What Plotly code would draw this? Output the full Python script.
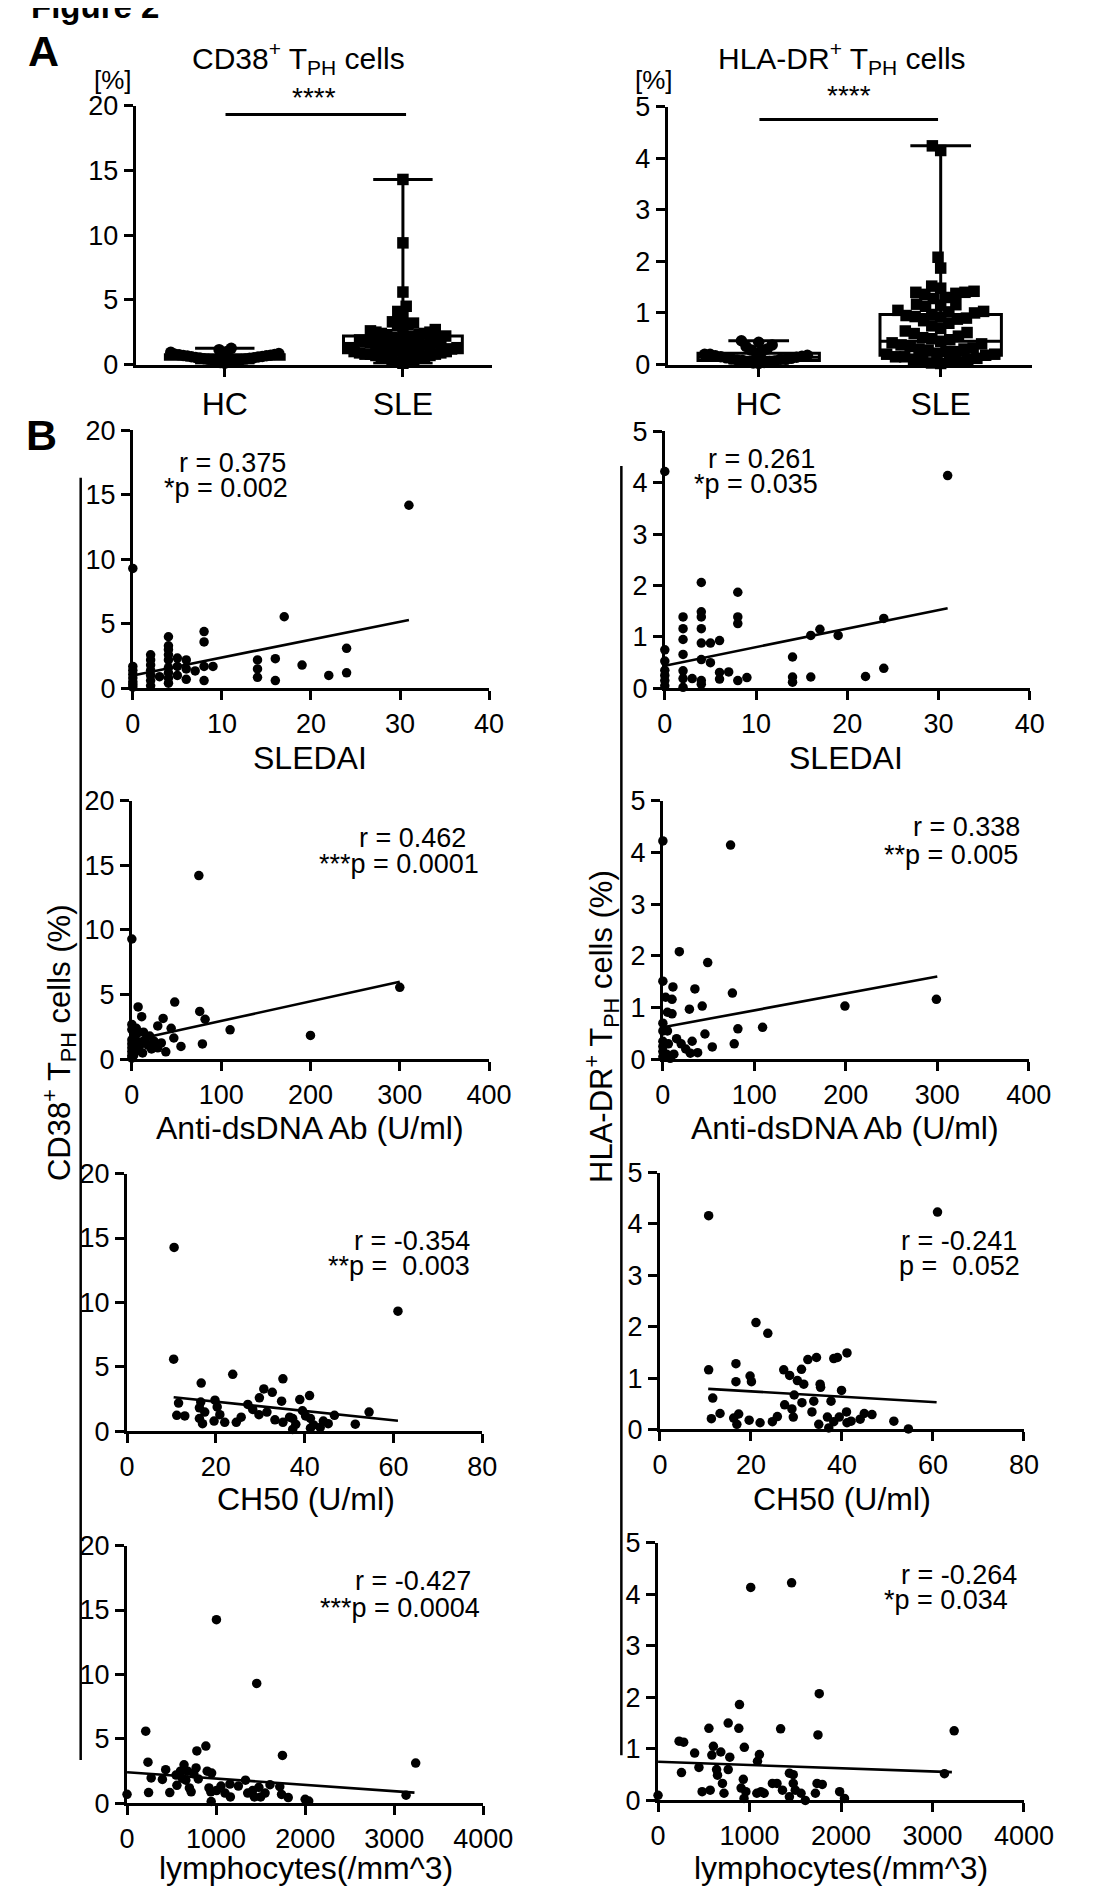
import math
import numpy as np
import plotly.graph_objects as go

W, H = 1101, 1899
FONT = "Liberation Sans, Arial, sans-serif"

# ---------------- DATA ----------------
# Panel A: CD38+ TPH cells (%)
hc_cd38 = [1.25, 1.15, 1.0, 0.95, 0.9, 0.85, 0.8, 0.78, 0.75, 0.72, 0.7, 0.68, 0.65, 0.62, 0.6,
           0.58, 0.55, 0.52, 0.5, 0.48, 0.45, 0.42, 0.4, 0.38, 0.35, 0.32, 0.3, 0.25, 0.2, 0.15, 0.1]
sle_cd38 = [14.3, 9.4, 5.6, 4.5, 4.1, 3.8, 3.3, 3.2, 3.1, 3.0, 2.8, 2.7, 2.6, 2.5, 2.5, 2.4, 2.4,
            2.3, 2.3, 2.2, 2.2, 2.1, 2.0, 2.0, 1.9, 1.9, 1.8, 1.8, 1.7, 1.7, 1.6, 1.6, 1.5, 1.5,
            1.4, 1.4, 1.3, 1.3, 1.3, 1.2, 1.2, 1.1, 1.1, 1.0, 1.0, 1.0, 0.9, 0.9, 0.8, 0.8, 0.8,
            0.7, 0.7, 0.6, 0.6, 0.5, 0.5, 0.4, 0.3, 0.2, 0.2, 0.1]
# box stats [min, q1, median, q3, max]
hc_cd38_box = [0.1, 0.4, 0.55, 0.75, 1.25]
sle_cd38_box = [0.1, 0.9, 1.5, 2.2, 14.3]

# Panel A: HLA-DR+ TPH cells (%)
hc_hla = [0.46, 0.43, 0.38, 0.35, 0.3, 0.28, 0.25, 0.22, 0.2, 0.2, 0.18, 0.17, 0.16, 0.15, 0.14,
          0.13, 0.12, 0.11, 0.1, 0.1, 0.09, 0.08, 0.07, 0.06, 0.05, 0.04, 0.03, 0.02]
sle_hla = [4.24, 4.15, 2.08, 1.87, 1.52, 1.48, 1.42, 1.4, 1.4, 1.38, 1.36, 1.3, 1.28, 1.17, 1.16,
           1.15, 1.13, 1.05, 1.03, 1.02, 1.0, 0.97, 0.95, 0.93, 0.92, 0.9, 0.88, 0.85, 0.8, 0.75,
           0.7, 0.65, 0.62, 0.6, 0.55, 0.52, 0.5, 0.48, 0.45, 0.42, 0.4, 0.38, 0.35, 0.32, 0.3,
           0.3, 0.28, 0.25, 0.25, 0.22, 0.2, 0.2, 0.18, 0.15, 0.15, 0.12, 0.1, 0.1, 0.08, 0.05,
           0.05, 0.03, 0.02]
hc_hla_box = [0.02, 0.08, 0.14, 0.22, 0.46]
sle_hla_box = [0.02, 0.18, 0.45, 0.97, 4.24]

groups = ["HC", "SLE"]

# Panel B1: SLEDAI
sledai_c = [0, 31, 17, 24, 24, 22, 19, 16, 16, 14, 14, 14, 8, 8, 8, 8, 9, 7, 6, 6, 6, 5, 5, 5,
            4, 4, 4, 4, 4, 4, 4, 4, 4, 3, 2, 2, 2, 2, 2, 2, 2, 0, 0, 0, 0, 0, 0, 0]
cd38_sledai = [9.3, 14.2, 5.55, 3.1, 1.2, 1.0, 1.8, 2.3, 0.6, 2.2, 1.5, 0.85, 4.4, 3.6, 1.7, 0.6,
               1.7, 1.35, 2.2, 1.5, 0.7, 2.35, 1.7, 1.0, 4.0, 3.3, 3.0, 2.6, 2.2, 1.6, 1.2, 0.8,
               0.4, 0.9, 2.6, 2.2, 1.8, 1.4, 1.0, 0.6, 0.2, 1.7, 1.4, 1.1, 0.8, 0.5, 0.3, 0.1]
fit_sledai_c = ([0, 31], [1.0, 5.3])

sledai_h = [0, 31, 4, 8, 8, 8, 4, 4, 4, 4, 4, 4, 4, 2, 2, 2, 2, 2, 2, 2, 0, 0, 0, 0, 0, 0, 3,
            5, 5, 6, 6, 6, 7, 8, 9, 14, 14, 14, 16, 16, 17, 19, 22, 24, 24]
hla_sledai = [4.22, 4.14, 2.06, 1.87, 1.39, 1.26, 1.49, 1.39, 1.16, 0.88, 0.56, 0.15, 0.08, 1.39,
              1.16, 0.95, 0.66, 0.34, 0.19, 0.02, 0.75, 0.53, 0.35, 0.25, 0.15, 0.05, 0.19, 0.88,
              0.5, 0.93, 0.31, 0.18, 0.32, 0.15, 0.21, 0.61, 0.22, 0.12, 1.03, 0.22, 1.15, 1.03,
              0.23, 1.36, 0.39]
fit_sledai_h = ([0, 31], [0.44, 1.56])

# Panel B2: Anti-dsDNA Ab (U/ml)
dsdna_c = [0, 75, 300, 200, 110, 79, 82, 76, 48, 35, 29, 44, 47, 55, 33, 38, 29, 7, 11, 0, 0, 5,
           13, 20, 10, 12, 0, 0, 0, 0, 0, 0, 3, 5, 8, 2, 25, 4, 6, 15, 18, 22]
cd38_dsdna = [9.3, 14.2, 5.57, 1.85, 2.28, 1.19, 3.1, 3.7, 4.43, 3.16, 2.58, 2.4, 1.65, 1.0, 1.27,
              0.58, 0.89, 4.05, 3.3, 2.7, 2.3, 2.4, 2.1, 1.8, 1.2, 0.5, 1.5, 1.2, 0.9, 0.6, 0.3,
              0.1, 1.8, 1.0, 0.7, 0.3, 1.4, 1.5, 2.0, 1.5, 1.1, 0.8]
fit_dsdna_c = ([0, 300], [1.45, 6.0])

dsdna_h = [0, 74, 18, 49, 35, 76, 43, 29, 199, 299, 109, 82, 46, 32, 54, 78, 38, 0, 11, 10, 5,
           10, 0, 0, 5, 0, 0, 0, 0, 15, 20, 25, 30, 8, 12, 3, 6, 4]
hla_dsdna = [4.22, 4.14, 2.08, 1.87, 1.36, 1.28, 1.03, 0.97, 1.03, 1.16, 0.62, 0.59, 0.49, 0.35,
             0.24, 0.3, 0.13, 1.51, 1.4, 1.16, 0.91, 0.88, 0.7, 0.55, 0.55, 0.35, 0.25, 0.15,
             0.05, 0.4, 0.3, 0.2, 0.12, 0.02, 0.1, 1.2, 0.3, 0.1]
fit_dsdna_h = ([0, 300], [0.62, 1.6])

# Panel B3: CH50 (U/ml)
ch50_c = [10.6, 10.5, 61, 23.8, 16.7, 35.1, 30.8, 32.7, 29.8, 41.1, 38.9, 34.8, 19.8, 11.6, 16.6,
          16.3, 17.5, 20.3, 27.2, 28.3, 29.7, 31.5, 11.2, 13, 16.3, 17, 19.6, 22, 20.9, 24.6,
          25.7, 33.3, 35.1, 36.6, 37.3, 38, 37.3, 39.5, 40.2, 41.3, 41.3, 42, 44.2, 45.3, 43.5,
          46.7, 51.4, 54.5]
cd38_ch50 = [14.27, 5.6, 9.32, 4.43, 3.75, 4.08, 3.29, 3.03, 2.6, 2.78, 2.47, 2.34, 2.42, 2.2,
             2.27, 1.83, 1.5, 1.9, 2.09, 1.7, 1.3, 1.5, 1.25, 1.2, 1.0, 0.6, 0.8, 0.7, 1.3, 0.7,
             1.1, 0.9, 0.7, 1.1, 0.15, 0.55, 1.0, 1.6, 1.2, 1.0, 0.25, 0.5, 0.8, 0.6, 0.3, 1.25,
             0.56, 1.5]
fit_ch50_c = ([10.5, 61], [2.65, 0.82])

ch50_h = [10.7, 61, 21.1, 23.7, 10.7, 16.7, 16.7, 19.8, 20.1, 11.6, 11.3, 13.2, 16.2, 17.3, 16.9,
          19.6, 22, 24.7, 25.8, 27.2, 28.5, 30.2, 31.6, 31.1, 32.5, 34.4, 29.5, 27.4, 29, 29.3,
          31.2, 33.8, 33.4, 35.2, 35.3, 37.6, 38.2, 39, 39.9, 41.1, 36.8, 34.9, 37.1, 38.2, 39.4,
          41, 41.1, 42, 44, 44.9, 46.6, 51.4, 54.6]
hla_ch50 = [4.16, 4.23, 2.08, 1.87, 1.16, 1.28, 0.93, 1.04, 0.93, 0.61, 0.21, 0.31, 0.22, 0.3, 0.1,
            0.18, 0.13, 0.15, 0.25, 1.16, 1.05, 0.95, 0.88, 1.17, 1.36, 1.4, 0.67, 0.48, 0.4,
            0.24, 0.52, 0.55, 0.34, 0.88, 0.82, 0.55, 1.38, 1.4, 0.76, 1.49, 0.24, 0.1, 0.03,
            0.15, 0.24, 0.34, 0.13, 0.16, 0.2, 0.31, 0.29, 0.16, 0.01]
fit_ch50_h = ([10.6, 60.8], [0.79, 0.53])

# Panel B4: lymphocytes (/mm^3)
lym_c = [1004, 1456, 210, 885, 784, 1745, 3241, 3133, 235, 0, 242, 271, 397, 434, 480, 550, 560,
         600, 620, 640, 660, 680, 700, 720, 750, 775, 800, 900, 950, 920, 940, 945, 1005, 1055,
         1100, 1155, 1160, 1250, 1330, 1355, 1410, 1430, 1480, 1500, 1550, 1605, 1715, 1735,
         1810, 2000, 2040]
cd38_lym = [14.25, 9.31, 5.6, 4.45, 4.07, 3.72, 3.13, 0.64, 3.2, 0.71, 0.84, 1.98, 1.86, 2.62,
            0.84, 2.2, 1.4, 2.5, 1.95, 3.0, 1.8, 2.5, 1.2, 0.9, 2.3, 2.75, 1.9, 2.5, 2.35, 1.2,
            0.9, 0.15, 1.0, 1.35, 0.8, 1.5, 0.5, 1.35, 1.8, 0.8, 1.0, 0.5, 1.25, 0.5, 0.8, 1.45,
            1.3, 0.7, 0.45, 0.32, 0.18]
fit_lym_c = ([0, 3227], [2.42, 0.84])

lym_h = [1013, 1460, 1762, 1748, 3237, 3131, 0, 230, 280, 256, 400, 447, 482, 556, 570, 588, 605,
         640, 650, 686, 704, 721, 767, 784, 767, 890, 883, 943, 932, 908, 940, 960, 1108, 1087,
         1080, 1125, 1160, 1250, 1300, 1340, 1360, 1436, 1478, 1478, 1436, 1500, 1563, 1610,
         1720, 1738, 1795, 1985, 2038]
hla_lym = [4.13, 4.22, 2.07, 1.27, 1.35, 0.52, 0.1, 1.15, 1.13, 0.54, 0.92, 0.64, 0.17, 1.4, 0.2,
           0.88, 1.05, 0.6, 0.49, 0.94, 0.33, 0.14, 1.5, 0.84, 0.6, 1.86, 1.4, 1.03, 0.41, 0.24,
           0.04, 0.17, 0.89, 0.76, 0.14, 0.17, 0.14, 0.33, 0.33, 1.39, 0.2, 0.53, 0.5, 0.33, 0.07,
           0.2, 0.14, 0.0, 0.14, 0.33, 0.31, 0.17, 0.04]
fit_lym_h = ([0, 3212], [0.75, 0.55])

stats_text = {
    3: ("r = 0.375", "*p = 0.002"),
    4: ("r = 0.261", "*p = 0.035"),
    5: ("r = 0.462", "***p = 0.0001"),
    6: ("r = 0.338", "**p = 0.005"),
    7: ("r = -0.354", "**p =\u00a0\u00a00.003"),
    8: ("r = -0.241", "p =\u00a0\u00a00.052"),
    9: ("r = -0.427", "***p = 0.0004"),
    10: ("r = -0.264", "*p = 0.034"),
}

# ---------------- LAYOUT HELPERS ----------------
def fx(p):
    return p / W


def fy(p):
    return 1 - p / H


# axis pixel boxes: (x_left, x_right, y_top, y_bottom)
boxes = {
    1: (124, 493, 84, 347),
    2: (675, 1052, 85, 347),
    3: (121, 490, 414, 676),
    4: (672, 1050, 415, 676),
    5: (120, 490, 790, 1053),
    6: (670, 1049, 790, 1053),
    7: (115, 483, 1169, 1431),
    8: (667, 1044, 1168, 1429),
    9: (115, 484, 1547, 1809),
    10: (665, 1044, 1544, 1806),
}

fig = go.Figure()

axis_common = dict(showline=True, linecolor="black", linewidth=3, ticks="outside", ticklen=9,
                   tickwidth=3, tickcolor="black", showgrid=False, zeroline=False,
                   tickfont=dict(family=FONT, size=27, color="black"), fixedrange=True)

xranges = {1: [-0.5, 1.5], 2: [-0.5, 1.5], 3: [0, 40], 4: [0, 40], 5: [0, 400], 6: [0, 400],
           7: [0, 80], 8: [0, 80], 9: [0, 4000], 10: [0, 4000]}
xdt = {3: 10, 4: 10, 5: 100, 6: 100, 7: 20, 8: 20, 9: 1000, 10: 1000}
for i, (x0, x1, yt, yb) in boxes.items():
    xa = dict(axis_common, domain=[fx(x0), fx(x1)], anchor=f"y{i}", range=xranges[i])
    left = (i % 2 == 1)
    ya = dict(axis_common, domain=[fy(yb), fy(yt)], anchor=f"x{i}",
              range=[0, 20] if left else [0, 5], tickmode="linear", tick0=0,
              dtick=5 if left else 1)
    if i in (1, 2):
        xa.update(tickmode="array", tickvals=[0, 1], ticktext=groups,
                  tickfont=dict(family=FONT, size=32, color="black"))
    else:
        xa.update(tickmode="linear", tick0=0, dtick=xdt[i])
    fig.update_layout(**{f"xaxis{i}": xa, f"yaxis{i}": ya})


def swarm(vals, px_per_y, d, max_half_width):
    vals = np.asarray(vals, dtype=float)
    order = np.argsort(vals, kind="stable")
    placed = []
    xs = np.zeros(len(vals))
    for i in order:
        y = vals[i] * px_per_y
        cands = [0.0]
        for (px, py) in placed:
            dy = y - py
            if abs(dy) < d:
                dx = math.sqrt(d * d - dy * dy)
                cands += [px + dx, px - dx]
        cands.sort(key=lambda c: (abs(c), c))
        for c in cands:
            if all((c - px) ** 2 + (y - py) ** 2 >= d * d - 1e-6 for px, py in placed):
                xs[i] = c
                break
        placed.append((xs[i], y))
    widest = np.max(np.abs(xs)) if len(xs) else 0
    if widest > max_half_width:
        xs = xs * (max_half_width / widest)
    return xs


# ---------------- PANEL A ----------------
def panel_a(idx, hc, sle, hc_box, sle_box, ymax):
    x0, x1, yt, yb = boxes[idx]
    px_y = (yb - yt) / ymax
    px_x = (x1 - x0) / 2.0
    for pos, bx in ((0, hc_box), (1, sle_box)):
        fig.add_trace(go.Box(x=[pos], lowerfence=[bx[0]], q1=[bx[1]], median=[bx[2]], q3=[bx[3]],
                             upperfence=[bx[4]], width=0.667, whiskerwidth=0.5,
                             line=dict(color="black", width=3), fillcolor="white",
                             boxpoints=False, showlegend=False, hoverinfo="skip",
                             xaxis=f"x{idx}", yaxis=f"y{idx}"))
    for pos, vals, sym in ((0, hc, "circle"), (1, sle, "square")):
        off = swarm(vals, px_y, 11.5, 56) / px_x
        fig.add_trace(go.Scatter(x=pos + off, y=vals, mode="markers",
                                 marker=dict(symbol=sym, size=11.5, color="black",
                                             line=dict(width=0)),
                                 cliponaxis=False, showlegend=False, hoverinfo="skip",
                                 xaxis=f"x{idx}", yaxis=f"y{idx}"))


panel_a(1, hc_cd38, sle_cd38, hc_cd38_box, sle_cd38_box, 20)
panel_a(2, hc_hla, sle_hla, hc_hla_box, sle_hla_box, 5)

# ---------------- PANEL B ----------------
scatter_sets = {
    3: (sledai_c, cd38_sledai, fit_sledai_c),
    4: (sledai_h, hla_sledai, fit_sledai_h),
    5: (dsdna_c, cd38_dsdna, fit_dsdna_c),
    6: (dsdna_h, hla_dsdna, fit_dsdna_h),
    7: (ch50_c, cd38_ch50, fit_ch50_c),
    8: (ch50_h, hla_ch50, fit_ch50_h),
    9: (lym_c, cd38_lym, fit_lym_c),
    10: (lym_h, hla_lym, fit_lym_h),
}
for i, (xv, yv, fit) in scatter_sets.items():
    fig.add_trace(go.Scatter(x=fit[0], y=fit[1], mode="lines",
                             line=dict(color="black", width=2.6), cliponaxis=False,
                             showlegend=False, hoverinfo="skip",
                             xaxis=f"x{i}", yaxis=f"y{i}"))
    fig.add_trace(go.Scatter(x=xv, y=yv, mode="markers",
                             marker=dict(symbol="circle", size=9.5, color="black",
                                         line=dict(width=0)),
                             cliponaxis=False, showlegend=False, hoverinfo="skip",
                             xaxis=f"x{i}", yaxis=f"y{i}"))

# ---------------- ANNOTATIONS ----------------
anns = []


def ann(text, x, y, size, xanchor="center", yanchor="middle", bold=False, angle=0):
    if bold:
        text = f"<b>{text}</b>"
    anns.append(dict(text=text, x=fx(x), y=fy(y), xref="paper", yref="paper",
                     xanchor=xanchor, yanchor=yanchor, showarrow=False, textangle=angle,
                     font=dict(family=FONT, size=size, color="black")))


ann("Figure 2", 13, -17, 33, xanchor="left", bold=True)
ann("A", 28, 28, 43, bold=True)
ann("B", 26, 419, 43, bold=True)

ann("CD38<sup>+</sup> T<sub>PH</sub> cells", 293, 36, 30)
ann("HLA-DR<sup>+</sup> T<sub>PH</sub> cells", 856, 36, 30)
ann("[%]", 100, 58, 26)
ann("[%]", 661, 58, 26)
ann("****", 309, 76, 28)
ann("****", 863, 74, 28)

stat_pos = {
    3: ((282, 447), (284, 472)),
    4: ((830, 443), (833, 468)),
    5: ((468, 828), (482, 855)),
    6: ((1042, 817), (1040, 845)),
    7: ((472, 1238), (472, 1263)),
    8: ((1039, 1238), (1042, 1263)),
    9: ((473, 1583), (483, 1610)),
    10: ((1039, 1577), (1030, 1602)),
}
for i, (rt, pt) in stats_text.items():
    (rx, ry), (px_, py_) = stat_pos[i]
    ann(rt, rx, ry, 27, xanchor="right")
    ann(pt, px_, py_, 27, xanchor="right")

xtitles = {
    3: ("SLEDAI", 305, 747), 4: ("SLEDAI", 860, 747),
    5: ("Anti-dsDNA Ab (U/ml)", 305, 1123), 6: ("Anti-dsDNA Ab (U/ml)", 859, 1123),
    7: ("CH50 (U/ml)", 300, 1500), 8: ("CH50 (U/ml)", 856, 1500),
    9: ("lymphocytes(/mm^3)", 300, 1875), 10: ("lymphocytes(/mm^3)", 855, 1875),
}
for i, (t, x, y) in xtitles.items():
    ann(t, x, y, 32)

ann("CD38<sup>+</sup> T<sub>PH</sub> cells (%)", 45, 1036, 31, angle=-90)
ann("HLA-DR<sup>+</sup> T<sub>PH</sub> cells (%)", 607, 1020, 31, angle=-90)

# ---------------- SHAPES ----------------
shapes = [
    dict(type="line", xref="paper", yref="paper", x0=fx(217), x1=fx(404), y0=fy(93), y1=fy(93),
         line=dict(color="black", width=3)),
    dict(type="line", xref="paper", yref="paper", x0=fx(770), x1=fx(955), y0=fy(98), y1=fy(98),
         line=dict(color="black", width=3)),
    dict(type="line", xref="paper", yref="paper", x0=fx(67), x1=fx(67), y0=fy(462), y1=fy(1765),
         line=dict(color="black", width=2.5)),
    dict(type="line", xref="paper", yref="paper", x0=fx(627), x1=fx(627), y0=fy(450), y1=fy(1760),
         line=dict(color="black", width=2.5)),
]

fig.update_layout(width=W, height=H, margin=dict(l=0, r=0, t=0, b=0),
                  paper_bgcolor="white", plot_bgcolor="white", annotations=anns,
                  shapes=shapes, showlegend=False, font=dict(family=FONT, color="black"))

fig.write_html("out.html")
